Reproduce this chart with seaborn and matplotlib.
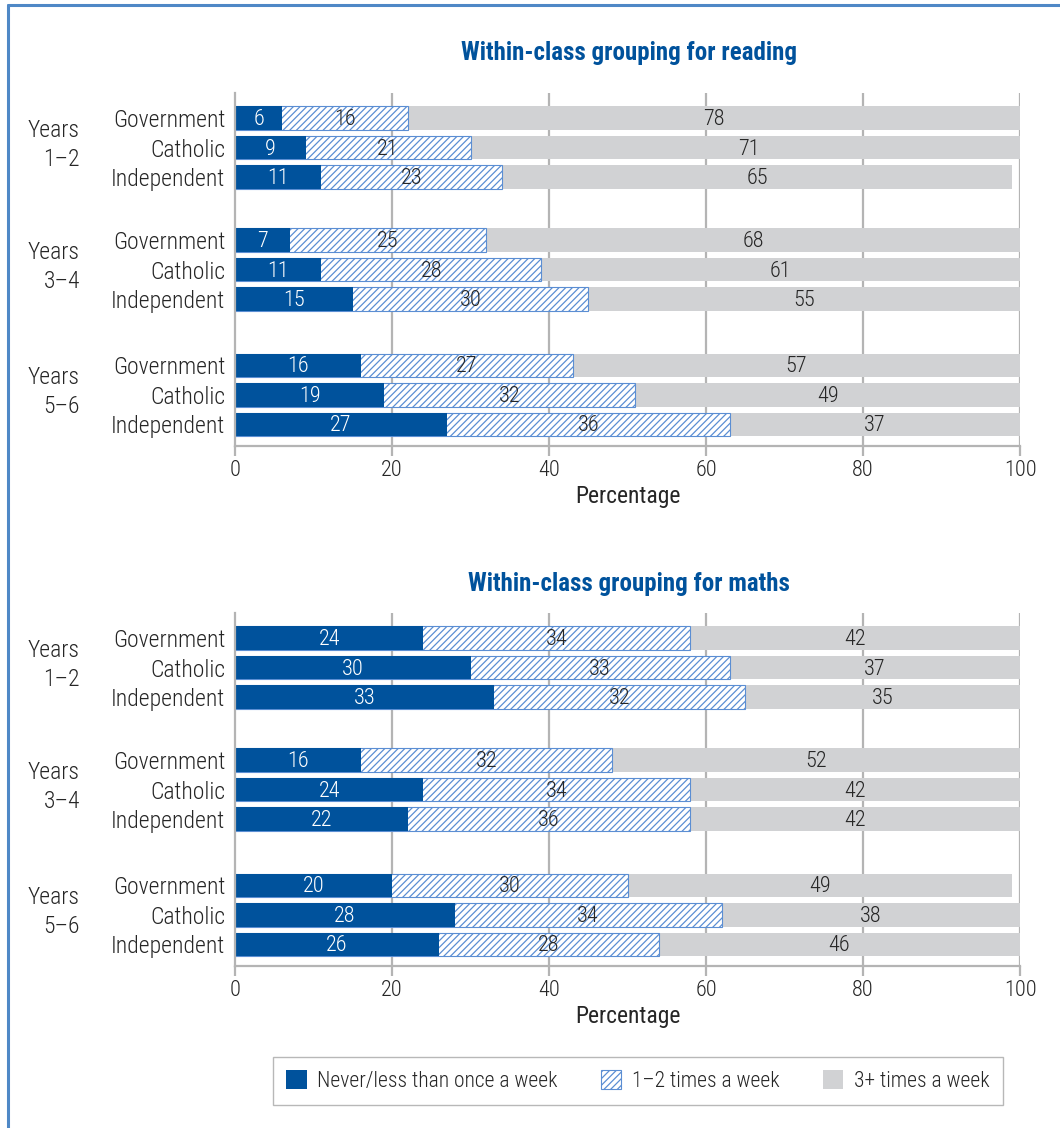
import numpy as np
import pandas as pd
import matplotlib
matplotlib.use("Agg")
import matplotlib.pyplot as plt
import matplotlib.transforms as mtransforms
from matplotlib.patches import Patch
from matplotlib.lines import Line2D
from matplotlib import font_manager
import seaborn as sns

# ---------------------------------------------------------------- data
sectors = ["Government", "Catholic", "Independent"]
year_groups = ["Years\n1–2", "Years\n3–4", "Years\n5–6"]
legend_labels = ["Never/less than once a week", "1–2 times a week", "3+ times a week"]
panel_titles = ["Within-class grouping for reading", "Within-class grouping for maths"]
x_ticks = [0, 20, 40, 60, 80, 100]

# rows: Years 1–2 (Government, Catholic, Independent), Years 3–4, Years 5–6
reading_never = [6, 9, 11, 7, 11, 15, 16, 19, 27]
reading_onetwo = [16, 21, 23, 25, 28, 30, 27, 32, 36]
reading_three = [78, 71, 65, 68, 61, 55, 57, 49, 37]

maths_never = [24, 30, 33, 16, 24, 22, 20, 28, 26]
maths_onetwo = [34, 33, 32, 32, 34, 36, 30, 34, 28]
maths_three = [42, 37, 35, 52, 42, 42, 49, 38, 46]

# ---------------------------------------------------------------- style
DARK_BLUE = "#00529c"
HATCH_BLUE = "#5b8ed3"
GREY = "#d1d2d4"
GRID = "#b4b4b4"
TEXT = "#262626"
FRAME = "#4f88c6"

sns.set_theme(style="white")
installed = {f.name for f in font_manager.fontManager.ttflist}
narrow = [n for n in ["Roboto Condensed", "Open Sans Condensed", "Liberation Sans Narrow",
                      "DejaVu Sans Condensed"] if n in installed]
plt.rcParams["font.family"] = narrow + ["Lato", "DejaVu Sans"]
plt.rcParams["font.weight"] = "light"
plt.rcParams["hatch.color"] = HATCH_BLUE
plt.rcParams["hatch.linewidth"] = 0.9

# vertical slots of the nine bars (three groups of three)
row_pos = [0, 1, 2, 4.13, 5.13, 6.13, 8.37, 9.37, 10.37]
BAR_W = 0.8

fig = plt.figure(figsize=(10.6, 11.28), dpi=100)

panels = [
    (reading_never, reading_onetwo, reading_three),
    (maths_never, maths_onetwo, maths_three),
]
axes_rects = [
    [235 / 1060, 1 - 446 / 1128, 785 / 1060, 353 / 1128],
    [235 / 1060, 1 - 966 / 1128, 785 / 1060, 353 / 1128],
]
title_y = [53, 584]

for (never, onetwo, three), rect, title, ty in zip(panels, axes_rects, panel_titles, title_y):
    ax = fig.add_axes(rect)
    df = pd.DataFrame({
        "pos": row_pos,
        "never": never,
        "onetwo": onetwo,
        "three": three,
    })
    df["c1"] = df["never"]
    df["c2"] = df["never"] + df["onetwo"]
    df["c3"] = df["c2"] + df["three"]

    ax.set_axisbelow(True)
    for gx in x_ticks[1:]:
        ax.axvline(gx, color=GRID, lw=1.6, zorder=0)

    common = dict(y="pos", orient="y", native_scale=True, errorbar=None,
                  saturation=1, width=BAR_W, ax=ax)
    sns.barplot(data=df, x="c3", color=GREY, linewidth=0, **common)
    sns.barplot(data=df, x="c2", color="white", edgecolor=HATCH_BLUE,
                linewidth=0.8, hatch="/////", **common)
    sns.barplot(data=df, x="c1", color=DARK_BLUE, linewidth=0, **common)

    # value labels centred in each segment
    for _, r in df.iterrows():
        ax.text(r["never"] / 2, r["pos"] + 0.05, f"{int(r['never'])}", ha="center",
                va="center", color="white", fontsize=16)
        ax.text(r["c1"] + r["onetwo"] / 2, r["pos"] + 0.05, f"{int(r['onetwo'])}",
                ha="center", va="center", color=TEXT, fontsize=16)
        ax.text(r["c2"] + r["three"] / 2, r["pos"] + 0.05, f"{int(r['three'])}",
                ha="center", va="center", color=TEXT, fontsize=16)

    ax.set_xlim(0, 100)
    ax.set_ylim(11.1, -0.85)
    ax.set_xticks(x_ticks)
    ax.set_xticklabels([str(t) for t in x_ticks])
    ax.set_yticks(row_pos)
    ax.set_yticklabels(sectors * 3)
    ax.tick_params(axis="y", length=0, pad=7, labelsize=17, labelcolor=TEXT)
    ax.tick_params(axis="x", length=7, width=1.6, color=GRID, pad=3,
                   labelsize=16, labelcolor=TEXT, bottom=True)
    ax.set_ylabel("")
    ax.set_xlabel("Percentage", fontsize=17, color=TEXT, labelpad=3)
    for side in ["top", "right"]:
        ax.spines[side].set_visible(False)
    for side in ["left", "bottom"]:
        ax.spines[side].set_color(GRID)
        ax.spines[side].set_linewidth(1.6)

    # year-group labels to the far left
    trans = mtransforms.blended_transform_factory(fig.transFigure, ax.transData)
    for g, label in enumerate(year_groups):
        ax.text(80 / 1060, row_pos[3 * g + 1] - 0.1, label, transform=trans,
                ha="right", va="center", multialignment="right",
                fontsize=17, color=TEXT, linespacing=1.35)

    fig.text(629 / 1060, 1 - ty / 1128, title, ha="center", va="center",
             fontsize=18, fontweight="bold", color=DARK_BLUE)

# legend
handles = [
    Patch(facecolor=DARK_BLUE, edgecolor=DARK_BLUE, linewidth=0),
    Patch(facecolor="white", edgecolor=HATCH_BLUE, hatch="/////", linewidth=0.8),
    Patch(facecolor=GREY, edgecolor=GREY, linewidth=0),
]
leg = fig.legend(handles, legend_labels, loc="center",
                 bbox_to_anchor=(638 / 1060, 1 - 1081 / 1128), ncol=3,
                 fontsize=15.5, frameon=True, fancybox=False, framealpha=1,
                 edgecolor="#b8b8b8", handlelength=0.95, handleheight=0.95,
                 handletextpad=0.5, columnspacing=2.0, borderpad=0.6)
leg.get_frame().set_linewidth(1.0)
for t in leg.get_texts():
    t.set_color(TEXT)

# outer frame (left and top edges)
fig.add_artist(Line2D([8 / 1060, 8 / 1060], [0, 1 - 5 / 1128],
                      transform=fig.transFigure, color=FRAME, lw=2.2))
fig.add_artist(Line2D([8 / 1060, 1], [1 - 5 / 1128, 1 - 5 / 1128],
                      transform=fig.transFigure, color=FRAME, lw=2.2))

fig.savefig("out.png", dpi=100, facecolor="white")
